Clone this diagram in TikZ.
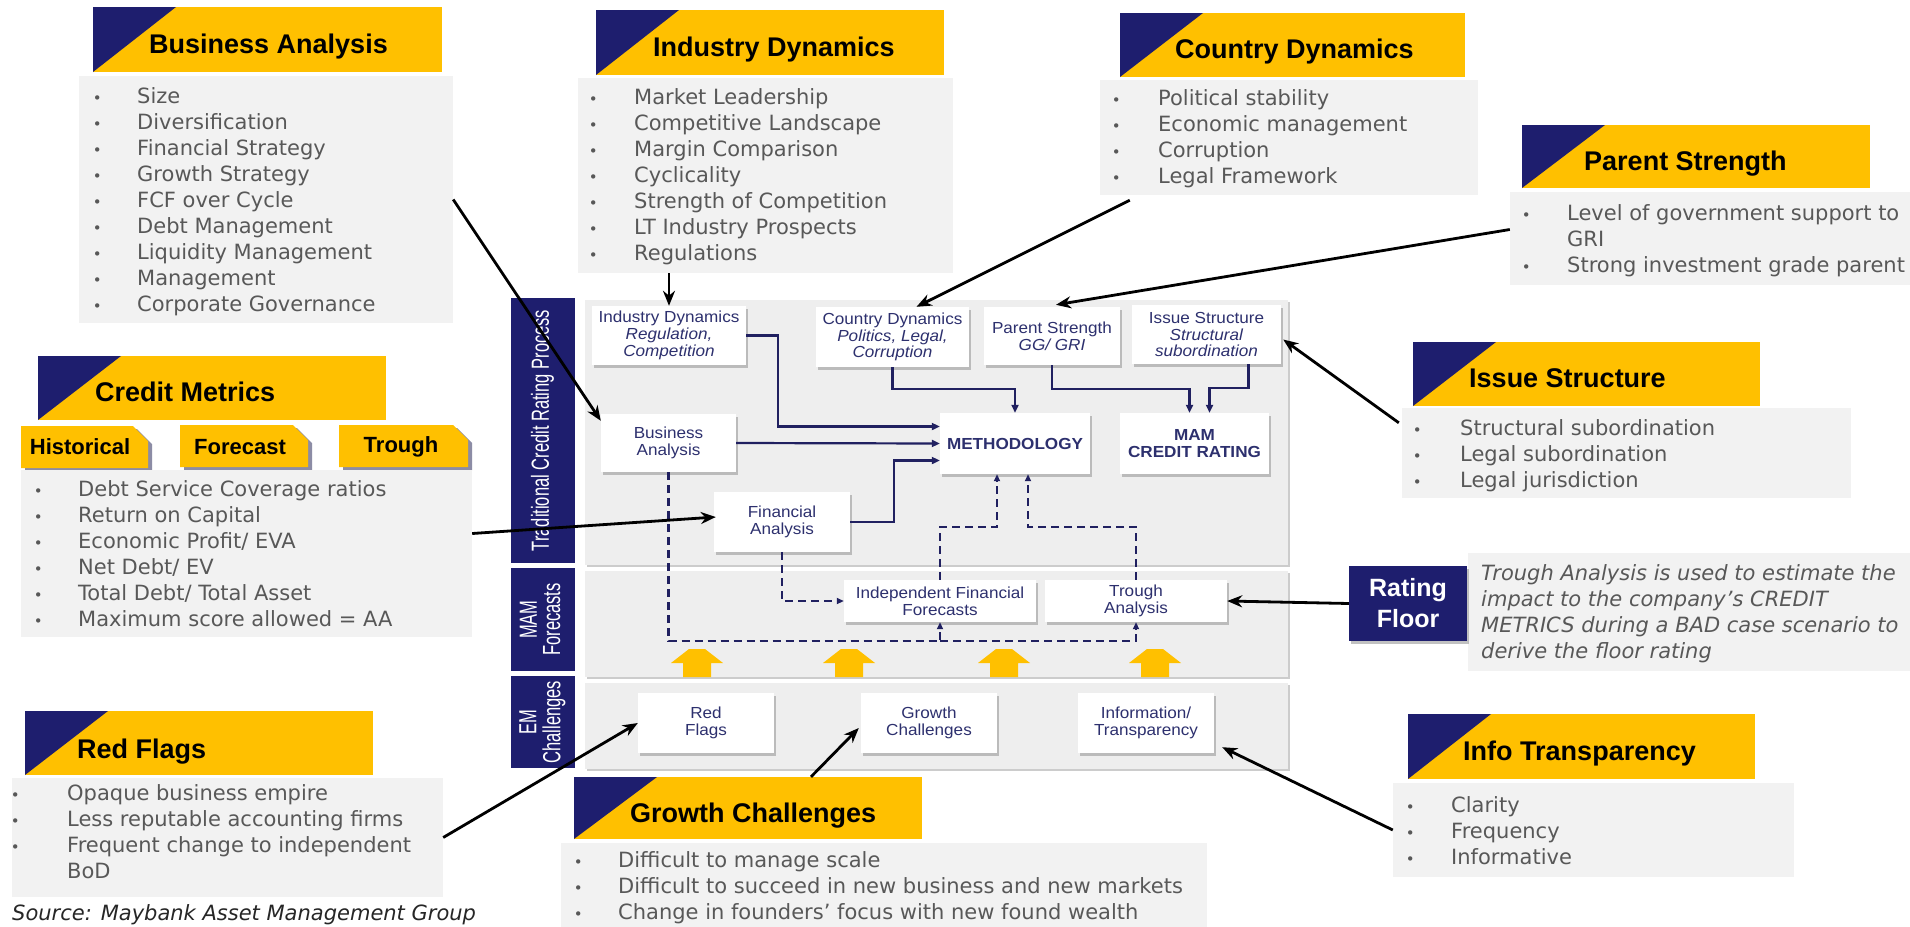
\documentclass[tikz,border=0pt]{standalone}
\usepackage{fontspec}
\setmainfont{DejaVu Sans}
\newfontfamily\arialf{Liberation Sans}
\newfontfamily\nodef{Liberation Sans}[FakeStretch=1.07]
\usetikzlibrary{arrows.meta,calc,shadows}
\definecolor{mynavy}{RGB}{30,30,110}
\definecolor{myyellow}{RGB}{255,192,0}
\definecolor{bodygray}{RGB}{242,242,242}
\definecolor{panelgray}{RGB}{238,238,238}
\definecolor{textgray}{RGB}{88,88,88}
\definecolor{nodetext}{RGB}{45,48,110}
\definecolor{linenavy}{RGB}{32,32,96}
\definecolor{tabshadow}{RGB}{140,140,165}
\newcommand{\bul}{{\fontsize{15}{26}\selectfont •}}
\newcommand{\tallbar}[1]{\scalebox{1}[1.5]{\begin{tabular}{@{}c@{}}#1\end{tabular}}}
\begin{document}
\begin{tikzpicture}[x=1pt,y=-1pt,
 hdrbg/.style={fill=myyellow, inner sep=0, path picture={\fill[mynavy] (path picture bounding box.north west) -- ++(83pt,0pt) -- (path picture bounding box.south west) -- cycle;}},
 hdrtxt/.style={anchor=base west, inner sep=0, font=\arialf\bfseries\fontsize{27}{30}\selectfont, text=black},
 bodybg/.style={fill=bodygray, inner sep=0},
 blist/.style={anchor=north west, inner sep=0, font=\fontsize{21}{26}\selectfont, text=textgray},
 pnode/.style={fill=white, inner sep=0, align=center, text=nodetext, font=\nodef\fontsize{16}{16.8}\selectfont, drop shadow={shadow xshift=2pt, shadow yshift=-2.5pt, fill=black!40, opacity=0.6}},
 bar/.style={fill=mynavy, inner sep=0, align=center, text=white, font=\arialf\fontsize{16.5}{13.5}\selectfont},
 tabtxt/.style={inner sep=0, font=\arialf\bfseries\fontsize{22}{24}\selectfont, text=black},
 blk/.style={draw=black, line width=2.8pt, -{Stealth[length=15pt,width=12pt]}},
 nav/.style={draw=linenavy, line width=2.2pt, -{Triangle[length=8pt,width=7pt]}},
 dsh/.style={draw=linenavy, line width=2.2pt, dash pattern=on 8pt off 5pt, -{Triangle[length=7pt,width=6pt]}},
 yarrow/.style={fill=myyellow}
]
\clip (0,0) rectangle (1910,926);
\fill[white] (0,0) rectangle (1910,926);

% ---------- panels ----------
\fill[black!20] (587,302) rectangle (1290,567);
\fill[panelgray] (585,300) rectangle (1288,565);
\fill[black!20] (587,573) rectangle (1290,679);
\fill[panelgray] (585,571) rectangle (1288,677);
\fill[black!20] (587,685) rectangle (1290,771);
\fill[panelgray] (585,683) rectangle (1288,769);

\node[bar, rotate=90, minimum width=265, minimum height=64] (bar1) at (543,430.5) {\tallbar{Traditional Credit Rating Process}};
\node[bar, rotate=90, minimum width=103, minimum height=64] (bar2) at (543,619.5) {\tallbar{MAM\\Forecasts}};
\node[bar, rotate=90, minimum width=92, minimum height=64] (bar3) at (543,722) {\tallbar{EM\\Challenges}};

% ---------- panel nodes ----------
\node[pnode, minimum width=154, minimum height=59] (ind) at (669,335.5) {Industry Dynamics\\\textit{Regulation,}\\\textit{Competition}};
\node[pnode, minimum width=153, minimum height=60] (cty) at (892.5,337) {Country Dynamics\\\textit{Politics, Legal,}\\\textit{Corruption}};
\node[pnode, minimum width=136, minimum height=58] (par) at (1052,336) {Parent Strength\\\textit{GG/ GRI}};
\node[pnode, minimum width=149, minimum height=59] (iss) at (1206.5,334.5) {Issue Structure\\\textit{Structural}\\\textit{subordination}};
\node[pnode, minimum width=135, minimum height=58] (ba) at (668.5,443) {Business\\Analysis};
\node[pnode, minimum width=150, minimum height=61, font=\nodef\bfseries\fontsize{16}{16.8}\selectfont] (meth) at (1015,443.5) {METHODOLOGY};
\node[pnode, minimum width=149, minimum height=61, font=\nodef\bfseries\fontsize{16}{16.8}\selectfont] (mam) at (1194.5,443.5) {MAM\\CREDIT RATING};
\node[pnode, minimum width=136, minimum height=60] (fa) at (782,522) {Financial\\Analysis};
\node[pnode, minimum width=192, minimum height=42] (iff) at (940,601) {Independent Financial\\Forecasts};
\node[pnode, minimum width=182, minimum height=42] (tro) at (1136,601) {Trough\\Analysis};
\node[pnode, minimum width=136, minimum height=60] (rf) at (706,723) {Red\\Flags};
\node[pnode, minimum width=136, minimum height=60] (gc) at (929,723) {Growth\\Challenges};
\node[pnode, minimum width=136, minimum height=60] (it) at (1146,723) {Information/\\Transparency};

% ---------- navy connectors ----------
\draw[nav] (ind.east) -- ++(32,0) |- ($(meth.west)+(0,-17)$);
\draw[nav] (ba.east) -- (meth.west);
\draw[nav] (fa.east) -- ++(44,0) |- ($(meth.west)+(0,17)$);
\draw[nav] (cty.south) -- ++(0,22) -| (meth.north);
\draw[nav] (par.south) -- ++(0,24) -| ($(mam.north)+(-5,0)$);
\draw[nav] ($(iss.south)+(42,0)$) -- ++(0,24) -| ($(mam.north)+(15,0)$);

% ---------- dashed connectors ----------
\draw[dsh] (ba.south) |- ($(iff.south)+(0,19)$) -- (iff.south);
\draw[dsh] ($(iff.south)+(0,19)$) -| (tro.south);
\draw[dsh] (fa.south) |- (iff.west);
\draw[dsh] (iff.north) -- ++(0,-53) -| ($(meth.south)+(-18,0)$);
\draw[dsh] (tro.north) -- ++(0,-53) -| ($(meth.south)+(13,0)$);

% ---------- yellow block arrows ----------
\foreach \cx in {697,849,1004,1155}
  \fill[yarrow] (\cx-8,649) -- (\cx+8,649) -- (\cx+26,663) -- (\cx+14,663) -- (\cx+14,677) -- (\cx-14,677) -- (\cx-14,663) -- (\cx-26,663) -- cycle;

% ---------- headers ----------
\node[hdrbg, minimum width=349, minimum height=65] (bahd) at (267.5,39.5) {};
\node[hdrtxt] (bahdt) at (149,53) {Business Analysis};
\node[hdrbg, minimum width=348, minimum height=65] (indhd) at (770,42.5) {};
\node[hdrtxt] (indhdt) at (653,56) {Industry Dynamics};
\node[hdrbg, minimum width=345, minimum height=64] (ctyhd) at (1292.5,45) {};
\node[hdrtxt] (ctyhdt) at (1175,58) {Country Dynamics};
\node[hdrbg, minimum width=348, minimum height=63] (parhd) at (1696,156.5) {};
\node[hdrtxt] (parhdt) at (1584,170) {Parent Strength};
\node[hdrbg, minimum width=348, minimum height=64] (cmhd) at (212,388) {};
\node[hdrtxt] (cmhdt) at (95,401) {Credit Metrics};
\node[hdrbg, minimum width=347, minimum height=64] (isshd) at (1586.5,374) {};
\node[hdrtxt] (isshdt) at (1469,387) {Issue Structure};
\node[hdrbg, minimum width=348, minimum height=64] (rfhd) at (199,743) {};
\node[hdrtxt] (rfhdt) at (77,758) {Red Flags};
\node[hdrbg, minimum width=348, minimum height=62] (gchd) at (748,808) {};
\node[hdrtxt] (gchdt) at (630,822) {Growth Challenges};
\node[hdrbg, minimum width=347, minimum height=65] (ithd) at (1581.5,746.5) {};
\node[hdrtxt] (ithdt) at (1463,760) {Info Transparency};

% ---------- credit metric tabs ----------
\fill[tabshadow] (25,429) -- (137,429) -- (152,444) -- (152,471) -- (25,471) -- cycle;
\fill[myyellow] (21,426) -- (133,426) -- (148,441) -- (148,468) -- (21,468) -- cycle;
\fill[tabshadow] (184,428) -- (297,428) -- (312,443) -- (312,470) -- (184,470) -- cycle;
\fill[myyellow] (180,425) -- (293,425) -- (308,440) -- (308,467) -- (180,467) -- cycle;
\fill[tabshadow] (343,428) -- (457,428) -- (472,443) -- (472,470) -- (343,470) -- cycle;
\fill[myyellow] (339,425) -- (453,425) -- (468,440) -- (468,467) -- (339,467) -- cycle;
\node[tabtxt] (tab1) at (80,447) {Historical};
\node[tabtxt] (tab2) at (240,447) {Forecast};
\node[tabtxt] (tab3) at (401,447) {Trough};

% ---------- bodies ----------
\node[bodybg, minimum width=374, minimum height=247] (babg) at (266,199.5) {};
\node[blist] (batx) at (92.6,85.3) {\begin{tabular}{@{}p{44.4pt}@{}l@{}}
\bul & Size\\ \bul & Diversification\\ \bul & Financial Strategy\\ \bul & Growth Strategy\\ \bul & FCF over Cycle\\ \bul & Debt Management\\ \bul & Liquidity Management\\ \bul & Management\\ \bul & Corporate Governance\end{tabular}};

\node[bodybg, minimum width=451, minimum height=167] (cmbg) at (246.5,553.5) {};
\node[blist] (cmtx) at (33.6,478.3) {\begin{tabular}{@{}p{44.4pt}@{}l@{}}
\bul & Debt Service Coverage ratios\\ \bul & Return on Capital\\ \bul & Economic Profit/ EVA\\ \bul & Net Debt/ EV\\ \bul & Total Debt/ Total Asset\\ \bul & Maximum score allowed = AA\end{tabular}};

\node[bodybg, minimum width=431, minimum height=119] (rfbg) at (227.5,837.5) {};
\node[blist] (rftx) at (10.6,782.3) {\begin{tabular}{@{}p{56.4pt}@{}l@{}}
\bul & Opaque business empire\\ \bul & Less reputable accounting firms\\ \bul & Frequent change to independent\\ & BoD\end{tabular}};

\node[bodybg, minimum width=375, minimum height=195] (indbg) at (765.5,175.5) {};
\node[blist] (indtx) at (588.6,86.3) {\begin{tabular}{@{}p{45.4pt}@{}l@{}}
\bul & Market Leadership\\ \bul & Competitive Landscape\\ \bul & Margin Comparison\\ \bul & Cyclicality\\ \bul & Strength of Competition\\ \bul & LT Industry Prospects\\ \bul & Regulations\end{tabular}};

\node[bodybg, minimum width=378, minimum height=115] (ctybg) at (1289,137.5) {};
\node[blist] (ctytx) at (1111.6,87.3) {\begin{tabular}{@{}p{46.4pt}@{}l@{}}
\bul & Political stability\\ \bul & Economic management\\ \bul & Corruption\\ \bul & Legal Framework\end{tabular}};

\node[bodybg, minimum width=402, minimum height=93] (parbg) at (1711,238.5) {};
\node[blist] (partx) at (1521.6,202.3) {\begin{tabular}{@{}p{45.4pt}@{}l@{}}
\bul & Level of government support to\\ & GRI\\ \bul & Strong investment grade parent\end{tabular}};

\node[bodybg, minimum width=449, minimum height=90] (issbg) at (1626.5,453) {};
\node[blist] (isstx) at (1412.6,417.3) {\begin{tabular}{@{}p{47.4pt}@{}l@{}}
\bul & Structural subordination\\ \bul & Legal subordination\\ \bul & Legal jurisdiction\end{tabular}};

\node[bodybg, minimum width=401, minimum height=94] (itbg) at (1593.5,830) {};
\node[blist] (ittx) at (1405.6,794.3) {\begin{tabular}{@{}p{45.4pt}@{}l@{}}
\bul & Clarity\\ \bul & Frequency\\ \bul & Informative\end{tabular}};

\node[bodybg, minimum width=646, minimum height=87] (gcbg) at (884,886.5) {};
\node[blist] (gctx) at (573.6,849.3) {\begin{tabular}{@{}p{44.4pt}@{}l@{}}
\bul & Difficult to manage scale\\ \bul & Difficult to succeed in new business and new markets\\ \bul & Change in founders’ focus with new found wealth\end{tabular}};

% ---------- rating floor ----------
\node[bodybg, minimum width=444, minimum height=118] (rdbg) at (1690,612) {};
\node[blist, font=\itshape\fontsize{21}{26}\selectfont] (rdtx) at (1481,562.3) {\begin{tabular}{@{}l@{}}
Trough Analysis is used to estimate the\\ impact to the company’s CREDIT\\ METRICS during a BAD case scenario to\\ derive the floor rating\end{tabular}};
\node[fill=mynavy, minimum width=118, minimum height=75, inner sep=0, text=white, align=center, font=\arialf\bfseries\fontsize{25}{31}\selectfont, drop shadow={shadow xshift=2pt, shadow yshift=-2.5pt, fill=black!40, opacity=0.6}] (rfl) at (1408,603.5) {Rating\\Floor};

% ---------- black pointer arrows ----------
\draw[blk] (babg.east) -- ($(ba.north west)+(0,7)$);
\draw[blk] ($(cmbg.east)+(0,-20)$) -- ($(fa.west)+(2,-5)$);
\draw[blk] (rfbg.east) -- (rf.west);
\draw[blk] (ind.north |- indbg.south) -- (ind.north);
\draw[blk] ($(ctybg.south west)+(30,5)$) -- ($(cty.north)+(24,0)$);
\draw[blk] ($(parbg.west)+(0,-9)$) -- ($(par.north)+(4,-2)$);
\draw[blk] ($(issbg.north west)+(-3,15)$) -- ($(iss.east)+(2,5)$);
\draw[blk] ($(gchd.north)+(63,0)$) -- ($(gc.west)+(-2,5)$);
\draw[blk] (itbg.west) -- ($(it.south east)+(8,-6)$);
\draw[blk] (rfl.west) -- (tro.east);

% ---------- source ----------
\node[anchor=base west, inner sep=0, font=\itshape\fontsize{21}{26}\selectfont, text=black!85] (src) at (12,920) {Source: Maybank Asset Management Group};
\end{tikzpicture}
\end{document}
